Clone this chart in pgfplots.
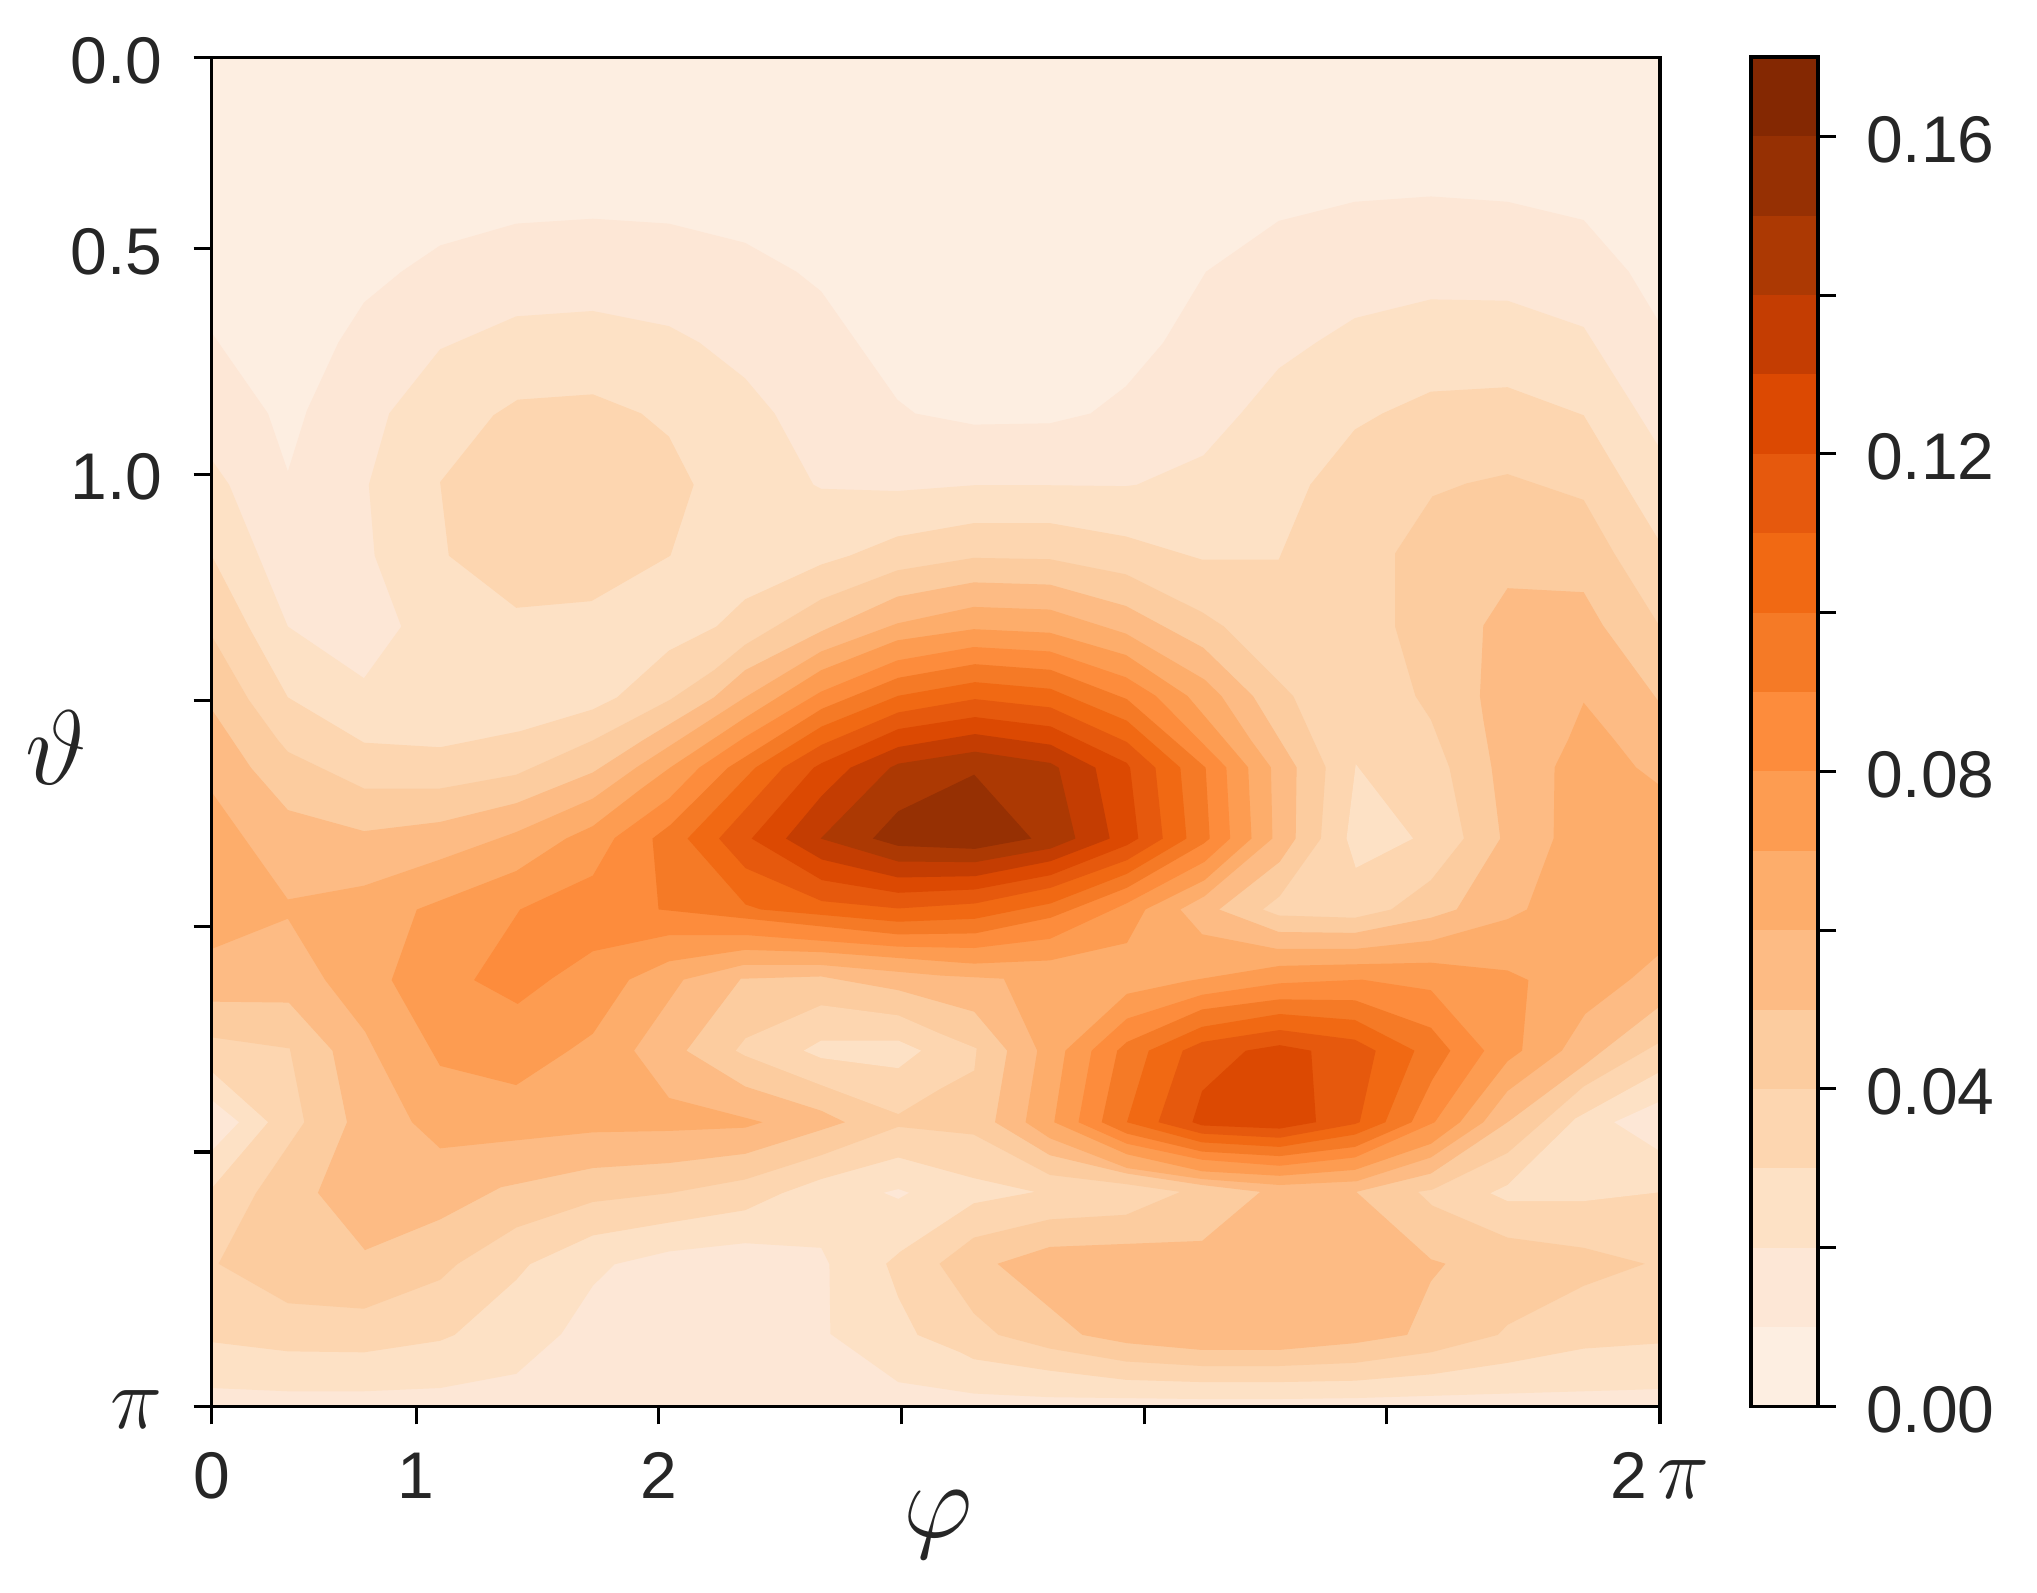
\documentclass[border=0pt]{standalone}
\usepackage{fix-cm}
\usepackage{fontspec}
\setmainfont{Liberation Sans}
\usepackage{pgfplots}
\pgfplotsset{compat=1.18}
\definecolor{txt}{HTML}{262626}
\definecolor{lv0}{HTML}{FDEEE1}
\definecolor{lv1}{HTML}{FDE7D6}
\definecolor{lv2}{HTML}{FDE1C5}
\definecolor{lv3}{HTML}{FDD6B0}
\definecolor{lv4}{HTML}{FCCC9F}
\definecolor{lv5}{HTML}{FDBB84}
\definecolor{lv6}{HTML}{FDAD6B}
\definecolor{lv7}{HTML}{FD9C51}
\definecolor{lv8}{HTML}{FD8C3C}
\definecolor{lv9}{HTML}{F57A26}
\definecolor{lv10}{HTML}{F16913}
\definecolor{lv11}{HTML}{E6590D}
\definecolor{lv12}{HTML}{DC4902}
\definecolor{lv13}{HTML}{C43D02}
\definecolor{lv14}{HTML}{AC3903}
\definecolor{lv15}{HTML}{963003}
\definecolor{lv16}{HTML}{842802}
% contour outlines in traced units
\newcommand\cont[2]{\addplot[fill=#1,draw=none,forget plot] table[row sep=\\,
  x expr={((\thisrowno{0}>=2000 ? 940+(\thisrowno{0}-2000)/2.063 : 200+\thisrowno{0}/2.063)-173.4)/242.6},
  y expr={((\thisrowno{1}>=2000 ? 720+(\thisrowno{1}-2000)/2.178 : 40+\thisrowno{1}/2.24)-21.5)/452.6}]{#2};}
\newcommand\peak[2]{\addplot[fill=#1,draw=none,forget plot] table[row sep=\\,
  x expr={(640+\thisrowno{0}/2.45-173.4)/242.6},
  y expr={(640+\thisrowno{1}/3-21.5)/452.6}]{#2};}
\newcommand\band[3]{\addplot[fill=#1,draw=none,forget plot] coordinates {(0,#2)(1,#2)(1,#3)(0,#3)};}
\begin{document}
\begin{tikzpicture}
\path[use as bounding box] (0,0) rectangle (1018.5pt,796.5pt);
\begin{axis}[
  at={(105.8pt,93.3pt)}, anchor=south west, scale only axis,
  width=724.2pt, height=674.25pt,
  xmin=0.157, xmax=6.126, ymin=0.0785, ymax=3.063, y dir=reverse,
  axis on top, no markers, axis line style={line width=1.6pt,black},
  tick style={line width=1.6pt,black}, tick align=outside, major tick length=9pt,
  xtick pos=bottom, ytick pos=left,
  xtick={0.157,1,2,3,4,5,6.126},
  xticklabels={0,1,2,,,,{2\,\fontsize{44}{44}\selectfont$\pi$}},
  ytick={0.0785,0.5,1,1.5,2,2.5,3.063},
  yticklabels={0.0,0.5,1.0,,,,{\fontsize{44}{44}\selectfont$\pi$}},
  tick label style={font=\fontsize{33}{33}\selectfont,text=txt},
  xticklabel style={anchor=north,yshift=-9.5pt,text height=24pt,text depth=0pt},
  yticklabel style={anchor=east,xshift=-12pt,yshift=-1.5pt},
  axis background/.style={fill=lv0},
  xlabel={\fontsize{54}{54}\selectfont$\varphi$},
  ylabel={\fontsize{53}{53}\selectfont$\vartheta$},
  every axis x label/.style={at={(axis description cs:0.5013,-0.0875)},anchor=center,text=txt},
  every axis y label/.style={at={(axis description cs:-0.1075,0.4885)},anchor=center,text=txt},
]
\cont{lv1}{20 655\\24 655\\140 836\\181 966\\220 830\\285 677\\338 587\\415 518\\495 459\\652 410\\810 399\\967 410\\1124 453\\1230 518\\1281 562\\1438 805\\1475 836\\2069 861\\2226 858\\2310 836\\2383 775\\2460 677\\2548 518\\2698 404\\2855 361\\3012 349\\3170 361\\3327 402\\3420 518\\3490 645\\3490 3500\\20 3500\\}
\cont{lv2}{20 940\\24 940\\60 996\\181 1314\\338 1430\\415 1314\\360 1155\\348 996\\390 836\\495 692\\652 618\\810 606\\967 640\\1030 677\\1124 757\\1185 836\\1265 996\\1281 1005\\1438 1010\\2069 997\\2226 997\\2383 999\\2405 996\\2543 930\\2620 836\\2698 735\\2775 677\\2855 622\\3012 580\\3170 583\\3327 642\\3430 820\\3490 925\\3490 3460\\3170 3470\\2855 3480\\2698 3482\\2540 3482\\2226 3478\\2069 3470\\1440 3445\\1300 3340\\1298 3188\\1281 3152\\1124 3142\\967 3160\\855 3188\\810 3235\\745 3340\\652 3427\\495 3458\\338 3465\\181 3465\\24 3458\\20 3458\\}
\cont{lv3}{20 1155\\24 1155\\100 1314\\181 1473\\338 2050\\495 2060\\660 2025\\810 1500\\860 1473\\967 1368\\1065 1314\\1124 1253\\1281 1175\\1340 1155\\1438 1112\\2069 1082\\2226 1082\\2383 1112\\2540 1164\\2698 1164\\2763 996\\2855 872\\2912 836\\3012 787\\3170 777\\3327 840\\3390 955\\3490 1135\\3490 3360\\3327 3372\\3170 3403\\3012 3428\\2855 3442\\2698 3445\\2540 3445\\2383 3440\\2226 3420\\2069 3395\\1568 3380\\1480 3342\\1440 3260\\1415 3187\\1445 3160\\2069 3055\\2195 3030\\2069 3000\\1440 2955\\1281 3002\\1200 3033\\1124 3070\\967 3097\\810 3125\\680 3188\\652 3222\\525 3342\\495 3355\\338 3380\\181 3378\\24 3358\\20 3358\\}
\cont{lv2}{3490 2765\\3310 2870\\3170 3015\\3135 3033\\3170 3050\\3327 3050\\3490 3030\\}
\cont{lv2}{20 2768\\24 2768\\140 2878\\24 3022\\20 3022\\}
\cont{lv1}{20 2830\\24 2830\\80 2878\\24 2940\\20 2940\\}
\cont{lv1}{3490 2830\\3390 2878\\3490 2945\\}
\cont{lv1}{1410 3032\\1440 3024\\1462 3032\\1440 3045\\}
\cont{lv3}{495 990\\513 1155\\652 1272\\807 1257\\970 1155\\1018 996\\967 888\\910 836\\810 793\\655 805\\605 840\\}
\cont{lv4}{20 1330\\24 1335\\100 1478\\160 1568\\181 2070\\338 2150\\495 2150\\652 2120\\810 2045\\970 1478\\1060 1412\\1124 1355\\1281 1253\\1438 1188\\2069 1160\\2226 1163\\2383 1197\\2540 1282\\2585 1314\\2728 1470\\2795 2104\\2785 2259\\2700 2385\\2665 2414\\2698 2427\\2855 2432\\2930 2414\\3012 2350\\3080 2259\\3050 2104\\3012 2000\\2980 1470\\2938 1314\\2938 1150\\3015 1022\\3085 993\\3170 972\\3327 1030\\3390 1150\\3490 1325\\3490 2700\\3327 2800\\3170 2945\\3015 3025\\2985 3030\\3015 3060\\3170 3130\\3327 3152\\3453 3187\\3327 3235\\3170 3320\\3150 3342\\3012 3380\\2855 3403\\2698 3410\\2540 3410\\2383 3400\\2226 3372\\2120 3342\\2069 3295\\1525 3187\\2069 3130\\2226 3090\\2383 3080\\2495 3030\\2383 3013\\2226 2993\\2069 2905\\1440 2888\\1281 2950\\1124 3003\\967 3033\\810 3052\\652 3108\\530 3188\\495 3222\\338 3285\\181 3273\\38 3187\\115 3033\\215 2878\\185 2717\\24 2693\\20 2693\\}
\cont{lv3}{1105 2722\\1125 2695\\1281 2623\\1440 2645\\2000 2685\\2075 2717\\2070 2765\\2000 2805\\1440 2860\\1281 2797\\1124 2733\\}
\cont{lv2}{1245 2722\\1281 2700\\1440 2700\\1487 2722\\1440 2760\\1281 2738\\}
\cont{lv2}{2857 2097\\2838 2259\\2857 2323\\2975 2259\\}
\cont{lv5}{20 1500\\24 1500\\105 2105\\181 2197\\338 2243\\495 2223\\652 2182\\810 2115\\915 1568\\1060 1473\\1124 1412\\1281 1325\\1438 1247\\2069 1215\\2226 1220\\2383 1268\\2543 1362\\2645 1470\\2700 1568\\2735 2104\\2733 2259\\2700 2310\\2575 2414\\2698 2463\\2855 2465\\3012 2432\\3065 2414\\3155 2259\\3137 2104\\3120 2000\\3113 1470\\3120 1312\\3170 1228\\3327 1237\\3367 1312\\3490 1495\\3490 2620\\3330 2752\\3170 2878\\3012 2990\\2858 3030\\3012 3177\\3042 3187\\3012 3225\\2963 3342\\2855 3360\\2698 3375\\2540 3375\\2385 3360\\2293 3342\\2118 3187\\2226 3150\\2540 3137\\2660 3030\\2540 3015\\2385 2990\\2226 2950\\2113 2878\\2138 2722\\2070 2637\\1440 2590\\1281 2560\\1115 2565\\1003 2722\\1124 2800\\1281 2853\\1330 2878\\1281 2895\\1124 2947\\967 2967\\810 2978\\620 3020\\495 3090\\340 3157\\243 3032\\303 2878\\273 2722\\183 2617\\24 2615\\20 2615\\}
\cont{lv6}{20 2158\\24 2158\\181 2392\\338 2362\\495 2305\\652 2245\\810 2172\\900 2104\\1124 1473\\1281 1370\\1438 1307\\2069 1270\\2226 1276\\2383 1330\\2545 1433\\2580 1470\\2640 1568\\2682 2104\\2685 2259\\2545 2385\\2495 2414\\2540 2468\\2695 2500\\2855 2500\\3012 2482\\3170 2435\\3210 2414\\3265 2259\\3267 2104\\3295 1568\\3327 1485\\3390 1568\\3435 2104\\3490 2148\\3490 2505\\3425 2565\\3330 2642\\3282 2722\\3170 2810\\3120 2878\\3012 2955\\2858 3007\\2700 3015\\2540 3002\\2385 2978\\2226 2913\\2176 2878\\2200 2722\\2131 2565\\2000 2558\\1281 2535\\1120 2535\\997 2567\\895 2722\\967 2825\\1160 2878\\1124 2890\\967 2897\\810 2900\\495 2935\\437 2878\\340 2680\\258 2568\\181 2434\\24 2500\\20 2503\\}
\cont{lv7}{447 2414\\652 2330\\755 2259\\810 2232\\908 2152\\970 2104\\1124 1519\\1281 1412\\1438 1345\\2069 1320\\2226 1328\\2383 1378\\2510 1470\\2635 2104\\2642 2259\\2545 2350\\2423 2414\\2385 2487\\2226 2525\\2070 2532\\1568 2530\\1281 2507\\1124 2502\\967 2527\\885 2567\\810 2685\\760 2722\\652 2797\\495 2755\\395 2568\\}
\cont{lv7}{2258 2722\\2385 2598\\2510 2570\\2700 2537\\3012 2530\\3170 2547\\3213 2568\\3200 2722\\3170 2745\\3072 2878\\3012 2925\\2855 2982\\2700 2995\\2540 2985\\2385 2948\\2235 2878\\}
\cont{lv8}{565 2568\\660 2414\\810 2340\\855 2258\\967 2172\\1030 2104\\1124 1562\\1281 1460\\1438 1390\\2069 1360\\2226 1370\\2383 1428\\2445 1470\\2590 2104\\2598 2259\\2545 2310\\2385 2400\\2226 2478\\2070 2498\\1440 2495\\1130 2470\\967 2470\\810 2505\\725 2565\\655 2620\\}
\cont{lv8}{2312 2722\\2385 2652\\2540 2600\\2700 2575\\2870 2567\\3012 2590\\3122 2722\\3020 2878\\2855 2955\\2700 2973\\2540 2960\\2385 2925\\2285 2878\\}
\peak{lv9}{30 597\\75 555\\215 384\\445 207\\632 114\\820 73\\1005 90\\1192 178\\1385 384\\1395 597\\1380 612\\1192 745\\1005 835\\820 882\\632 885\\45 810\\}
\cont{lv9}{2365 2722\\2385 2703\\2540 2632\\2700 2610\\2855 2612\\3012 2672\\3052 2722\\3015 2785\\2972 2878\\2855 2932\\2700 2952\\2540 2942\\2385 2903\\2333 2878\\}
\peak{lv10}{116 597\\282 384\\445 260\\632 168\\820 127\\1005 147\\1192 243\\1323 384\\1338 597\\1192 703\\1005 792\\820 838\\632 847\\295 810\\258 795\\}
\cont{lv10}{2430 2722\\2540 2670\\2700 2642\\2855 2655\\2978 2722\\2918 2878\\2855 2905\\2700 2932\\2540 2922\\2385 2878\\}
\peak{lv11}{193 597\\350 384\\445 315\\632 218\\820 178\\1005 203\\1192 307\\1262 384\\1280 597\\1192 662\\1005 745\\820 792\\632 807\\445 785\\258 686\\}
\cont{lv11}{2500 2722\\2540 2703\\2700 2677\\2855 2698\\2898 2722\\2865 2878\\2855 2882\\2700 2912\\2540 2903\\2450 2878\\}
\peak{lv12}{273 597\\425 384\\445 370\\632 268\\820 232\\1005 260\\1192 370\\1200 384\\1220 597\\1192 617\\1005 707\\820 750\\632 760\\445 722\\}
\cont{lv12}{2630 2722\\2700 2710\\2765 2722\\2775 2878\\2700 2892\\2540 2885\\2520 2878\\2540 2810\\}
\peak{lv13}{357 597\\445 468\\515 384\\632 322\\820 283\\1005 315\\1115 384\\1150 597\\1005 665\\820 710\\632 714\\445 660\\}
\peak{lv14}{442 597\\612 384\\632 372\\820 336\\1005 370\\1025 384\\1066 597\\1005 627\\820 668\\632 666\\}
\peak{lv15}{818 405\\632 515\\570 597\\632 619\\820 628\\958 597\\}
\end{axis}
\begin{axis}[
  at={(875.5pt,93.3pt)}, anchor=south west, scale only axis,
  width=33.5pt, height=674.7pt,
  xmin=0, xmax=1, ymin=0, ymax=0.17,
  axis on top, no markers, axis line style={line width=1.6pt,black},
  tick style={line width=1.6pt,black}, tick align=outside, major tick length=9pt,
  xtick=\empty, ytick pos=right, yticklabel pos=right,
  ytick={0,0.02,0.04,0.06,0.08,0.10,0.12,0.14,0.16},
  yticklabels={0.00,,0.04,,0.08,,0.12,,0.16},
  tick label style={font=\fontsize{33}{33}\selectfont,text=txt},
  yticklabel style={anchor=west,xshift=11.5pt,yshift=-1.5pt},
]
\band{lv0}{0.00}{0.01}\band{lv1}{0.01}{0.02}\band{lv2}{0.02}{0.03}\band{lv3}{0.03}{0.04}
\band{lv4}{0.04}{0.05}\band{lv5}{0.05}{0.06}\band{lv6}{0.06}{0.07}\band{lv7}{0.07}{0.08}
\band{lv8}{0.08}{0.09}\band{lv9}{0.09}{0.10}\band{lv10}{0.10}{0.11}\band{lv11}{0.11}{0.12}
\band{lv12}{0.12}{0.13}\band{lv13}{0.13}{0.14}\band{lv14}{0.14}{0.15}\band{lv15}{0.15}{0.16}
\band{lv16}{0.16}{0.17}
\end{axis}
\end{tikzpicture}
\end{document}
